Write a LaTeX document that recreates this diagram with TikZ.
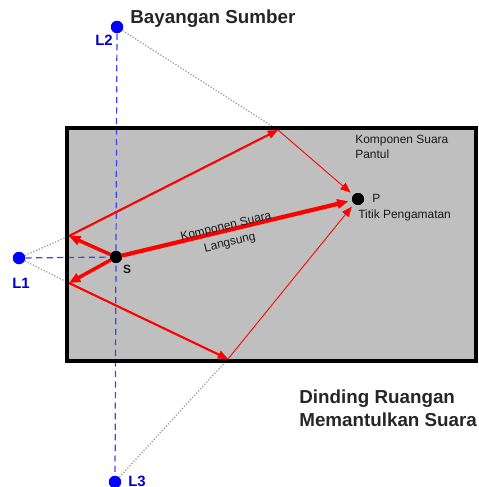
\documentclass[tikz,border=0pt]{standalone}
\usepackage{fontspec}
\setmainfont{Liberation Sans}
\usetikzlibrary{arrows.meta}

\tikzset{
  srcdot/.style={circle,fill=blue,inner sep=0pt,minimum size=0.25cm},
  obsdot/.style={circle,fill=black,inner sep=0pt,minimum size=0.24cm},
  ray/.style={draw=red,-{Triangle[length=#1*3.2,width=#1*2.6]}},
  imgline/.style={draw=blue!75,dash pattern=on 3.5pt off 2.5pt,line width=0.7pt},
  sightline/.style={draw=gray!80,densely dotted,line width=0.7pt},
  bigtext/.style={font=\fontsize{10.7}{13}\selectfont\bfseries,text=black!85},
  smalltext/.style={font=\fontsize{6.8}{8.2}\selectfont,text=black!90,inner sep=0pt},
  imgtext/.style={font=\fontsize{8.5}{10}\selectfont\bfseries,text=blue!80!black,inner sep=0pt}
}

\begin{document}
\begin{tikzpicture}[x=0.02cm,y=-0.02cm]
  \useasboundingbox (0,0) rectangle (478,487);
  % room
  \fill[gray!50] (67,128) rectangle (476,361);

  % source, observer and the three images
  \node[obsdot] (S) at (116,257) {};
  \node[obsdot] (P) at (358,199) {};
  \node[srcdot] (L2) at (117,27) {};
  \node[srcdot] (L1) at (19,258) {};
  \node[srcdot] (L3) at (115,482) {};
  \coordinate (W1) at (69,236);
  \coordinate (W2) at (69,283);
  \coordinate (T) at (278,130);
  \coordinate (B) at (228,359);

  \draw[imgline] (L2) -- (L3);
  \draw[imgline] (L1) -- (S);
  \draw[sightline] (L2) -- (T);
  \draw[sightline] (L1) -- (W1);
  \draw[sightline] (L1) -- (W2);
  \draw[sightline] (L3) -- (B);

  \draw[line width=2.6pt] (67,128) rectangle (476,361);

  % rays
  \draw[ray=2pt,line width=2pt] (S) -- (W1);
  \draw[ray=2pt,line width=2pt] (S) -- (W2);
  \draw[ray=1.8pt,line width=1.2pt] (W1) -- (T);
  \draw[ray=1.8pt,line width=1.2pt] (W2) -- (B);
  \draw[ray=1.8pt,line width=0.5pt,shorten >=2pt] (T) -- (P);
  \draw[ray=1.8pt,line width=0.5pt,shorten >=2pt] (B) -- (P);
  \draw[ray=2pt,line width=2.4pt,shorten >=2pt] (S) -- (P);
  \node[obsdot] at (S) {};
  \node[obsdot] at (P) {};

  % labels
  \node[smalltext,font=\fontsize{6.8}{9.5}\selectfont,rotate=13.5,align=center] (direct) at (228,235) {Komponen Suara\\Langsung};
  \node[bigtext,anchor=west,inner sep=0pt] (imgname) at (130,19) {Bayangan Sumber};
  \node[imgtext] (L2lbl) at (104,40) {L2};
  \node[imgtext] (L1lbl) at (21,283) {L1};
  \node[imgtext] (L3lbl) at (137,481) {L3};
  \node[smalltext,font=\fontsize{6.8}{8.2}\selectfont\bfseries] (Slbl) at (127,269) {S};
  \node[smalltext,anchor=west] (Plbl) at (372,198) {P};
  \node[smalltext,anchor=west] (obsname) at (358,215) {Titik Pengamatan};
  \node[smalltext,anchor=north west,align=left] (refl) at (355,135) {Komponen Suara\\Pantul};
  \node[bigtext,anchor=north west,align=left,inner sep=0pt] (wall) at (299,390) {Dinding Ruangan\\Memantulkan Suara};
\end{tikzpicture}
\end{document}
